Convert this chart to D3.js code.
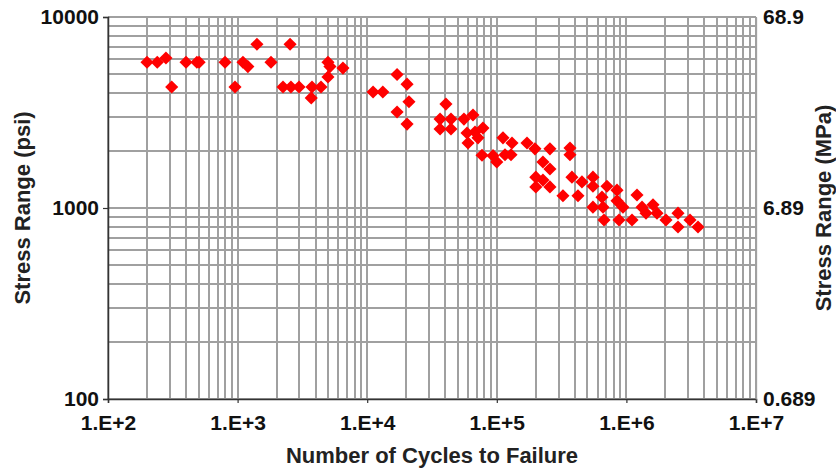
<!DOCTYPE html>
<html>
<head>
<meta charset="utf-8">
<script src="https://cdn.jsdelivr.net/npm/d3@7"></script>
<style>
  body { margin: 0; background: #fff; }
  svg { display: block; font-family: "Liberation Sans", Arial, sans-serif; }
</style>
</head>
<body>
<svg id="chart" width="836" height="468"></svg>
<script>
// test data
const cycles = [
  200, 240, 280, 310, 400, 485, 505, 800, 955, 1100,
  1200, 1410, 1810, 2240, 2540, 2580, 2980, 3700, 3750, 4400,
  4980, 5160, 4980, 6500, 11100, 13200, 17000, 20300, 21000, 17000,
  20300, 40500, 36500, 44300, 36500, 44300, 55800, 65500, 58900, 67900,
  78200, 71600, 60000, 76900, 93500, 100000, 111600, 131000, 115700, 128700,
  171000, 197000, 257000, 227000, 257000, 200000, 227000, 200000, 257000, 324000,
  367000, 367000, 380000, 454000, 552000, 552000, 423000, 708000, 648000, 552000,
  660000, 672000, 846000, 846000, 941000, 877000, 1105000, 1207000, 1320000, 1417000,
  1604000, 1722000, 2021000, 2501000, 2501000, 3096000, 3569000
];
const stressPsi = [
  5800, 5800, 6100, 4300, 5800, 5800, 5800, 5800, 4300, 5800,
  5500, 7200, 5800, 4300, 7200, 4300, 4300, 3770, 4300, 4300,
  5800, 5500, 4850, 5400, 4050, 4050, 5000, 4450, 3600, 3180,
  2750, 3500, 2920, 2920, 2590, 2590, 2920, 3070, 2470, 2500,
  2620, 2330, 2190, 1890, 1880, 1740, 2330, 2190, 1900, 1900,
  2190, 2040, 2040, 1740, 1600, 1450, 1400, 1290, 1290, 1160,
  2060, 1900, 1450, 1370, 1450, 1300, 1160, 1300, 1140, 1010,
  1010, 865, 1240, 1090, 1010, 865, 865, 1170, 1010, 940,
  1040, 940, 865, 940, 795, 865, 795
];

const xTicks = [1e2, 1e3, 1e4, 1e5, 1e6, 1e7];
const xTickLabels = ["1.E+2", "1.E+3", "1.E+4", "1.E+5", "1.E+6", "1.E+7"];
const yTicksPsi = [100, 1000, 10000];
const yTicksMPa = [0.689, 6.89, 68.9];
const yTickLabelsMPa = ["0.689", "6.89", "68.9"];

const width = 836;
const height = 468;
const margin = { top: 17, right: 80, bottom: 69, left: 108 };
const innerW = width - margin.left - margin.right;
const innerH = height - margin.top - margin.bottom;

const svg = d3.select("#chart");
const g = svg.append("g")
  .attr("transform", `translate(${margin.left},${margin.top})`);

const x = d3.scaleLog().domain([1e2, 1e7]).range([0, innerW]);
const y = d3.scaleLog().domain([100, 10000]).range([innerH, 0]);
const yMPa = d3.scaleLog().domain([0.689, 68.9]).range([innerH, 0]);

// log grid: 1..9 in every decade
const xGrid = [];
for (let e = 2; e < 7; e++) {
  for (let k = 1; k < 10; k++) xGrid.push(k * Math.pow(10, e));
}
xGrid.push(1e7);
const yGrid = [];
for (let e = 2; e < 4; e++) {
  for (let k = 1; k < 10; k++) yGrid.push(k * Math.pow(10, e));
}
yGrid.push(1e4);

const grid = g.append("g")
  .attr("stroke", "#a0a0a0")
  .attr("stroke-width", 1.3)
  .attr("shape-rendering", "crispEdges");

grid.selectAll("line.v")
  .data(xGrid)
  .enter()
  .append("line")
  .attr("class", "v")
  .attr("x1", d => Math.round(x(d)))
  .attr("x2", d => Math.round(x(d)))
  .attr("y1", 0)
  .attr("y2", innerH);

grid.selectAll("line.h")
  .data(yGrid)
  .enter()
  .append("line")
  .attr("class", "h")
  .attr("y1", d => Math.round(y(d)))
  .attr("y2", d => Math.round(y(d)))
  .attr("x1", 0)
  .attr("x2", innerW);

// axes
const axisStyle = sel => {
  sel.select(".domain").attr("stroke", "#333").attr("stroke-width", 1.5);
  sel.selectAll(".tick line").attr("stroke", "#333").attr("stroke-width", 1.2);
  sel.selectAll(".tick text")
    .attr("fill", "#111")
    .style("font-size", "21px")
    .style("font-weight", "bold")
    .style("font-family", "'Liberation Sans', Arial, sans-serif");
};

g.append("g")
  .attr("transform", `translate(0,${innerH})`)
  .call(d3.axisBottom(x)
    .tickValues(xTicks)
    .tickSizeOuter(0)
    .tickSize(4)
    .tickPadding(12)
    .tickFormat((d, i) => xTickLabels[i]))
  .call(axisStyle);

g.append("g")
  .call(d3.axisLeft(y)
    .tickValues(yTicksPsi)
    .tickSizeOuter(0)
    .tickSize(5)
    .tickPadding(4)
    .tickFormat(d3.format("d")))
  .call(axisStyle);

const right = g.append("g")
  .attr("transform", `translate(${innerW},0)`)
  .call(d3.axisRight(yMPa)
    .tickValues(yTicksMPa)
    .tickSizeOuter(0)
    .tickSize(0)
    .tickPadding(7)
    .tickFormat((d, i) => yTickLabelsMPa[i]))
  .call(axisStyle);
right.select(".domain").attr("stroke", "#a0a0a0").attr("stroke-width", 1.3);

// data points, red diamonds
const diamond = d3.symbol().type(d3.symbolSquare).size(86);
g.append("g")
  .selectAll("path")
  .data(cycles.map((c, i) => [c, stressPsi[i]]))
  .enter()
  .append("path")
  .attr("d", diamond)
  .attr("fill", "#ff0000")
  .attr("transform", d => `translate(${x(d[0])},${y(d[1])}) rotate(45)`);

// titles
svg.append("text")
  .attr("x", margin.left + innerW / 2)
  .attr("y", 463)
  .attr("text-anchor", "middle")
  .attr("fill", "#222")
  .style("font-size", "22px")
  .style("font-weight", "bold")
  .text("Number of Cycles to Failure");

svg.append("text")
  .attr("transform", `translate(30,${margin.top + innerH / 2}) rotate(-90)`)
  .attr("text-anchor", "middle")
  .attr("fill", "#222")
  .style("font-size", "22px")
  .style("font-weight", "bold")
  .text("Stress Range (psi)");

svg.append("text")
  .attr("transform", `translate(831,${margin.top + innerH / 2}) rotate(-90)`)
  .attr("text-anchor", "middle")
  .attr("fill", "#222")
  .style("font-size", "22px")
  .style("font-weight", "bold")
  .text("Stress Range (MPa)");
</script>
</body>
</html>
